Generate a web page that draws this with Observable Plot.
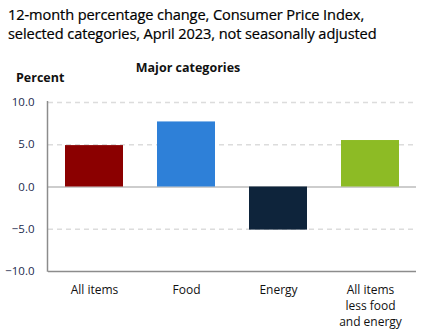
<!DOCTYPE html>
<html>
<head>
<meta charset="utf-8">
<script src="https://cdn.jsdelivr.net/npm/d3@7"></script>
<script src="https://cdn.jsdelivr.net/npm/@observablehq/plot@0.6"></script>
<style>
  html, body { margin: 0; padding: 0; background: #fff; }
  #wrap { position: relative; width: 426px; height: 336px; overflow: hidden; font-family: "Open Sans", "Noto Sans", sans-serif; }
  #title { position: absolute; left: 8px; top: 5px; font-size: 14.6px; line-height: 19px; color: #000; letter-spacing: -0.1px; -webkit-text-stroke: 0.2px #000; }
  #sub { position: absolute; left: 0; width: 376px; text-align: center; top: 59px; font-size: 12.5px; font-weight: bold; color: #111; }
  #ylab { position: absolute; left: 16px; top: 69px; font-size: 12.5px; font-weight: bold; color: #111; }
  #chart { position: absolute; left: 0; top: 0; }
</style>
</head>
<body>
<div id="wrap">
  <div id="chart"></div>
  <div id="title">12-month percentage change, Consumer Price Index,<br>selected categories, April 2023, not seasonally adjusted</div>
  <div id="sub">Major categories</div>
  <div id="ylab">Percent</div>
</div>
<script>
const categories = ["All items", "Food", "Energy", "All items\nless food\nand energy"];
const values = [4.9, 7.7, -5.1, 5.5];
const colors = ["#8b0000", "#2e80d8", "#0e243b", "#8dbb25"];
const yTicks = [-10, -5, 0, 5, 10];
const gridTicks = [-5, 5, 10];

const data = categories.map((c, i) => ({category: c, value: values[i], color: colors[i]}));

const chart = Plot.plot({
  width: 426,
  height: 336,
  marginTop: 102,
  marginBottom: 65,
  marginLeft: 48,
  marginRight: 10,
  style: {fontFamily: "'Open Sans', 'Noto Sans', sans-serif", background: "transparent"},
  x: {domain: categories, paddingInner: 0.37, paddingOuter: 0.185, label: null},
  y: {domain: [-10, 10], label: null},
  marks: [
    Plot.ruleY(gridTicks, {stroke: "#dcdcdc", strokeWidth: 1.3, strokeDasharray: "5,4"}),
    Plot.ruleY([0], {stroke: "#bdbdbd", strokeWidth: 1.5}),
    Plot.barY(data, {x: "category", y: "value", fill: "color"}),
    Plot.ruleY([-10], {stroke: "#8c8c8c", strokeWidth: 1.5}),
    Plot.axisY({ticks: yTicks, tickSize: 0, tickPadding: 14, tickFormat: d => d.toFixed(1).replace("-", "\u2212"), fill: "#1b2a4d", fontSize: 11.5, label: null}),
    Plot.axisX({tickSize: 0, tickPadding: 11, fill: "#111", fontSize: 12, lineHeight: 1.33, label: null, textAnchor: "middle"}),
  ]
});

document.getElementById("chart").appendChild(chart);

// left axis line, positioned from the plot's own scales
const ys = chart.scale("y");
const xs = chart.scale("x");
const xLeft = xs.range[0];
d3.select(chart).append("line")
  .attr("x1", xLeft - 0.5).attr("x2", xLeft - 0.5)
  .attr("y1", ys.apply(10) - 1).attr("y2", ys.apply(-10) + 0.75)
  .attr("stroke", "#8c8c8c").attr("stroke-width", 1.5);
</script>
</body>
</html>
